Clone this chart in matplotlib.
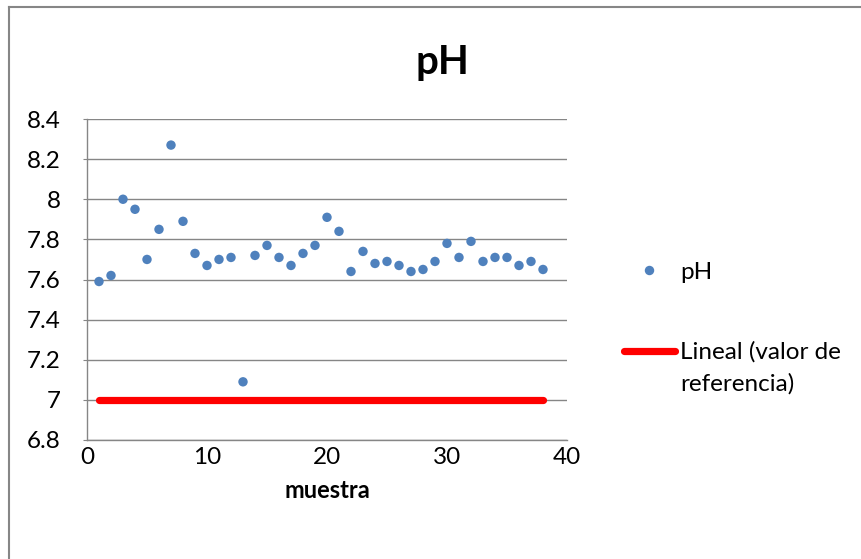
import matplotlib
matplotlib.use("Agg")
import matplotlib.pyplot as plt
from matplotlib.lines import Line2D

plt.rcParams['font.family'] = ['Lato', 'DejaVu Sans']

muestra = list(range(1, 39))
ph = [7.59, 7.62, 8.00, 7.95, 7.70, 7.85, 8.27, 7.89, 7.73, 7.67,
      7.70, 7.71, 7.09, 7.72, 7.77, 7.71, 7.67, 7.73, 7.77, 7.91,
      7.84, 7.64, 7.74, 7.68, 7.69, 7.67, 7.64, 7.65, 7.69, 7.78,
      7.71, 7.79, 7.69, 7.71, 7.71, 7.67, 7.69, 7.65]
referencia = [7.0] * len(muestra)
y_ticks = [6.8, 7.0, 7.2, 7.4, 7.6, 7.8, 8.0, 8.2, 8.4]
y_labels = ['6.8', '7', '7.2', '7.4', '7.6', '7.8', '8', '8.2', '8.4']
x_ticks = [0, 10, 20, 30, 40]

W, H = 861, 559
fig = plt.figure(figsize=(W / 100, H / 100), dpi=100)
fig.patch.set_facecolor('white')

ax = fig.add_axes([87 / W, (H - 440) / H, 480 / W, 321 / H])
grid_c = '#868686'
blue = '#4F81BD'

ax.plot(muestra, referencia, color='#FF0000', lw=5.2, solid_capstyle='round', zorder=2)
ax.scatter(muestra, ph, s=46, color=blue, edgecolors='none', zorder=3)

ax.set_xlim(0, 40)
ax.set_ylim(6.8, 8.4)
ax.set_xticks(x_ticks)
ax.set_yticks(y_ticks)
ax.set_yticklabels(y_labels)
ax.yaxis.grid(True, color=grid_c, lw=1.0)
ax.set_axisbelow(True)
for s in ['top', 'right']:
    ax.spines[s].set_visible(False)
ax.spines['left'].set_color(grid_c)
ax.spines['bottom'].set_color(grid_c)
ax.spines['left'].set_linewidth(1.0)
ax.spines['bottom'].set_linewidth(1.0)
ax.tick_params(axis='y', length=3, color=grid_c, pad=16, labelsize=17.5)
ax.tick_params(axis='x', length=0, pad=5, labelsize=17.5)
ax.set_xlabel('muestra', fontsize=17, fontweight='bold', labelpad=8)

fig.text(442 / W, 1 - 62 / H, 'pH', ha='center', va='center', fontsize=29, fontweight='bold')

# legend
fig.add_artist(Line2D([649 / W], [1 - 270 / H], marker='o', markersize=6.8, color=blue,
                      markeredgecolor='none', linestyle='none', transform=fig.transFigure))
fig.text(680 / W, 1 - 272 / H, 'pH', ha='left', va='center', fontsize=17.5)
fig.add_artist(Line2D([624 / W, 675 / W], [1 - 351 / H, 1 - 351 / H], color='#FF0000', lw=5.2,
                      solid_capstyle='round', transform=fig.transFigure))
fig.text(680 / W, 1 - 352 / H, 'Lineal (valor de', ha='left', va='center', fontsize=17.5)
fig.text(680 / W, 1 - 384 / H, 'referencia)', ha='left', va='center', fontsize=17.5)

# outer chart border (left and top)
fig.add_artist(Line2D([9 / W, 9 / W], [0, 1 - 7 / H], color=grid_c, lw=1.5, transform=fig.transFigure))
fig.add_artist(Line2D([9 / W, 1], [1 - 7 / H, 1 - 7 / H], color=grid_c, lw=1.5, transform=fig.transFigure))

fig.savefig('out.png', dpi=100)
